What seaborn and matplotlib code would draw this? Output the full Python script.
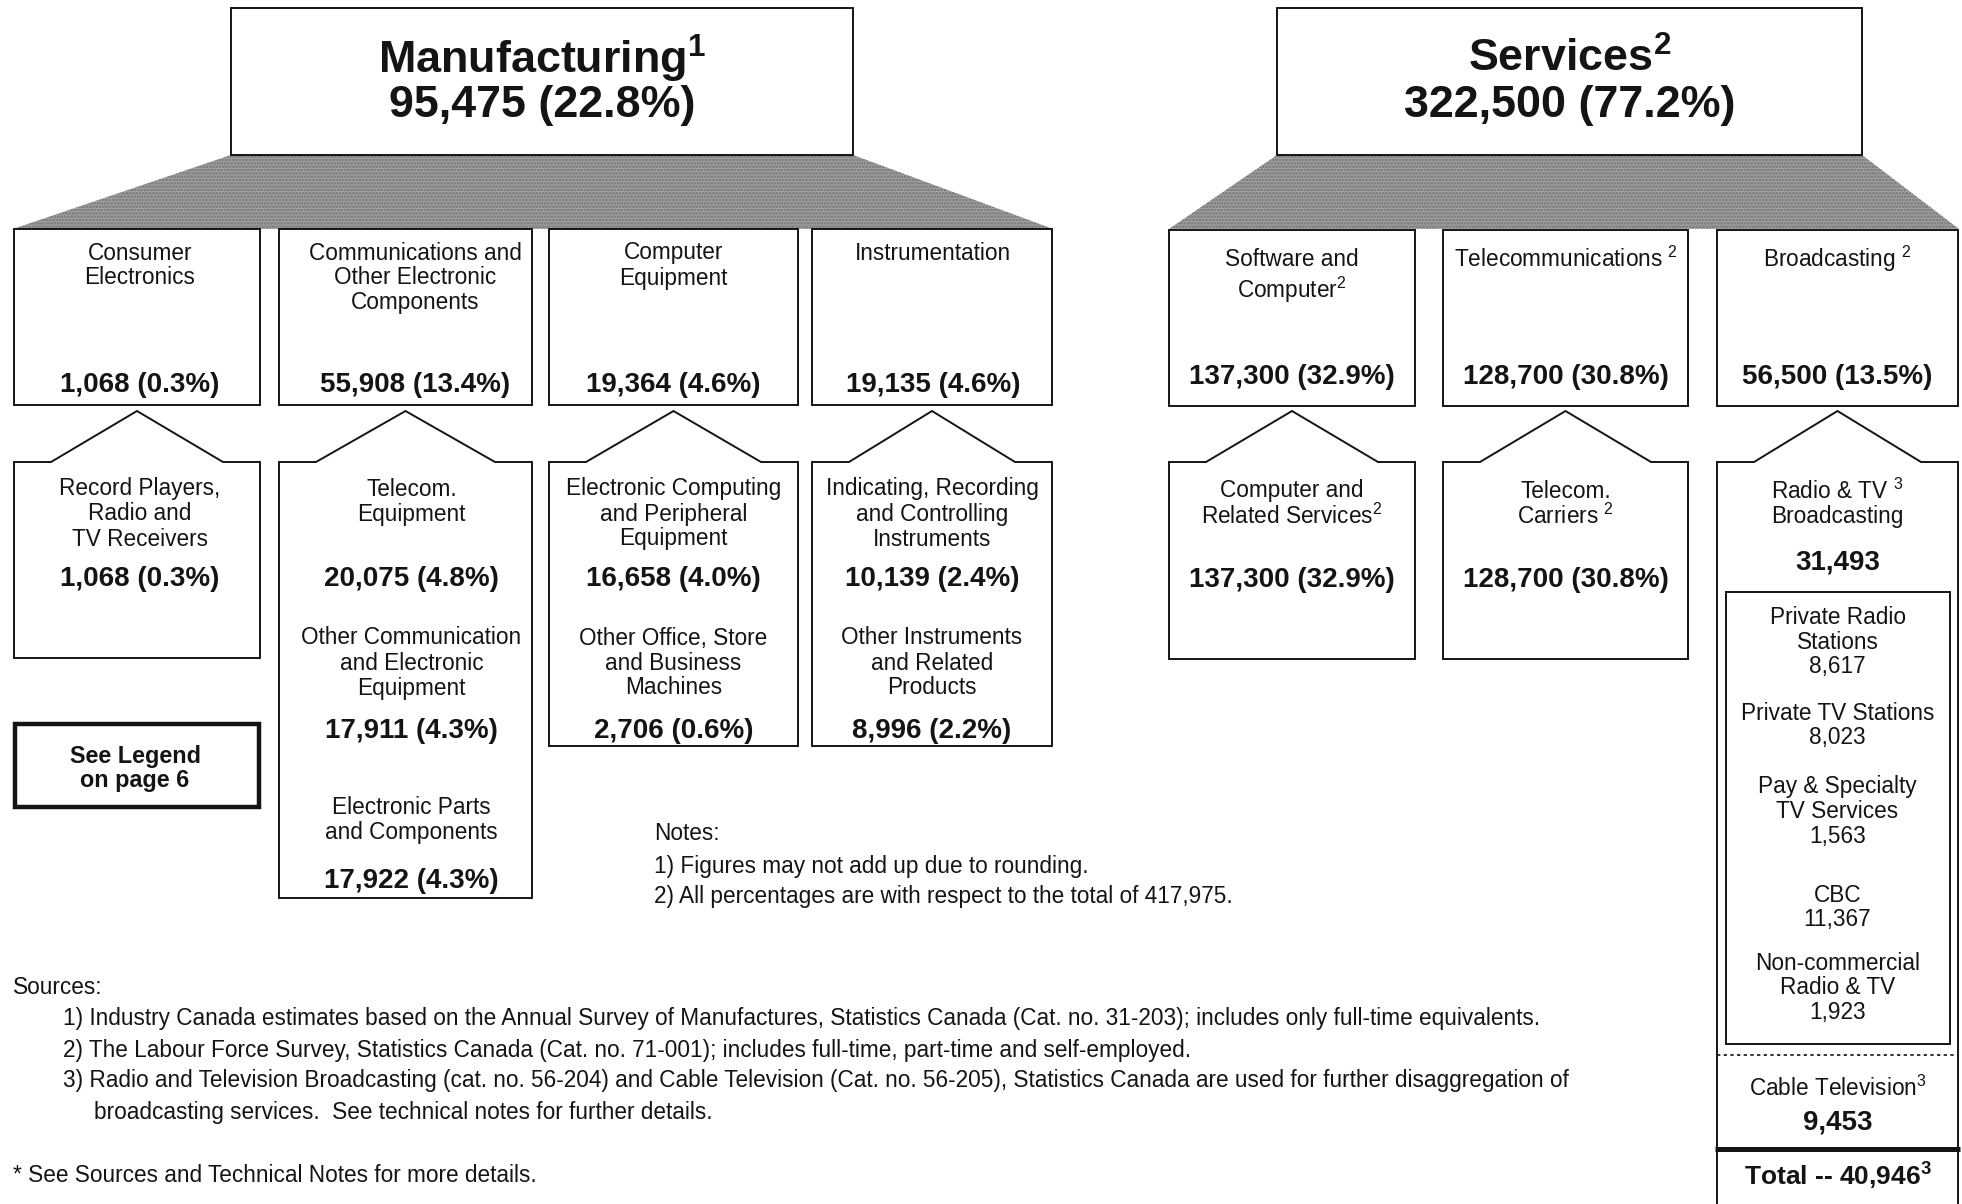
import matplotlib
matplotlib.use("Agg")
import matplotlib.pyplot as plt
from matplotlib.patches import Polygon, Rectangle
import seaborn as sns

# ---------------- data ----------------
top_names = [r"Manufacturing$^{\mathbf{1}}$", r"Services$^{\mathbf{2}}$"]
top_values = [95475, 322500]
top_pcts = [22.8, 77.2]

mfg_cats = ["Consumer\nElectronics",
            "Communications and\nOther Electronic\nComponents",
            "Computer\nEquipment",
            "Instrumentation"]
mfg_values = [1068, 55908, 19364, 19135]
mfg_pcts = [0.3, 13.4, 4.6, 4.6]

mfg_sub_cats = [["Record Players,\nRadio and\nTV Receivers"],
                ["Telecom.\nEquipment", "Other Communication\nand Electronic\nEquipment",
                 "Electronic Parts\nand Components"],
                ["Electronic Computing\nand Peripheral\nEquipment",
                 "Other Office, Store\nand Business\nMachines"],
                ["Indicating, Recording\nand Controlling\nInstruments",
                 "Other Instruments\nand Related\nProducts"]]
mfg_sub_values = [[1068], [20075, 17911, 17922], [16658, 2706], [10139, 8996]]
mfg_sub_pcts = [[0.3], [4.8, 4.3, 4.3], [4.0, 0.6], [2.4, 2.2]]

svc_cats = ["Software and\nComputer$^{2}$", "Telecommunications $^{2}$", "Broadcasting $^{2}$"]
svc_values = [137300, 128700, 56500]
svc_pcts = [32.9, 30.8, 13.5]

svc_sub_cats = ["Computer and\nRelated Services$^{2}$", "Telecom.\nCarriers $^{2}$"]
svc_sub_values = [137300, 128700]
svc_sub_pcts = [32.9, 30.8]

radio_tv_label = "Radio & TV $^{3}$\nBroadcasting"
radio_tv_total = 31493
radio_tv_cats = ["Private Radio\nStations", "Private TV Stations",
                 "Pay & Specialty\nTV Services", "CBC", "Non-commercial\nRadio & TV"]
radio_tv_values = [8617, 8023, 1563, 11367, 1923]
cable_label = "Cable Television$^{3}$"
cable_value = 9453
broadcast_total = 40946

legend_note = "See Legend\non page 6"
notes = ["Notes:",
         "1) Figures may not add up due to rounding.",
         "2) All percentages are with respect to the total of 417,975."]
sources_title = "Sources:"
sources = ["1) Industry Canada estimates based on the Annual Survey of Manufactures, Statistics Canada (Cat. no. 31-203); includes only full-time equivalents.",
           "2) The Labour Force Survey, Statistics Canada (Cat. no. 71-001); includes full-time, part-time and self-employed.",
           "3) Radio and Television Broadcasting (cat. no. 56-204) and Cable Television (Cat. no. 56-205), Statistics Canada are used for further disaggregation of",
           "broadcasting services.  See technical notes for further details."]
footnote = "* See Sources and Technical Notes for more details."

# ---------------- style ----------------
sns.set_theme(style="white")
plt.rcParams["font.family"] = ["Liberation Sans", "DejaVu Sans"]
plt.rcParams["mathtext.fontset"] = "custom"
plt.rcParams["mathtext.rm"] = "Liberation Sans"
plt.rcParams["mathtext.it"] = "Liberation Sans:italic"
plt.rcParams["mathtext.bf"] = "Liberation Sans:bold"
plt.rcParams["mathtext.default"] = "rm"
plt.rcParams["hatch.linewidth"] = 1.4

W, H = 1962, 1204
fig = plt.figure(figsize=(W / 100, H / 100), dpi=100)
ax = fig.add_axes([0, 0, 1, 1])
ax.set_xlim(0, W)
ax.set_ylim(H, 0)
ax.axis("off")

INK = "#141414"
LW = 1.4
BODY = 16.3
VAL = 20
HEAD = 32.3


def fmt(v, p=None):
    s = f"{v:,}"
    if p is not None:
        s += f" ({p:.1f}%)"
    return s


def lines(xc, y0, text, step=25, size=BODY, weight="normal"):
    for i, ln in enumerate(text.split("\n")):
        ax.text(xc, y0 + i * step, ln, ha="center", va="center", fontsize=size,
                fontweight=weight, color=INK)


def value(xc, y, text, size=VAL):
    ax.text(xc, y, text, ha="center", va="center", fontsize=size, fontweight="bold", color=INK)


def house(x0, x1, bottom, apex=411, sh=462, inset=37):
    xc = (x0 + x1) / 2
    pts = [(x0, bottom), (x0, sh), (x0 + inset, sh), (xc, apex),
           (x1 - inset, sh), (x1, sh), (x1, bottom)]
    ax.add_patch(Polygon(pts, closed=True, fill=False, ec=INK, lw=LW))


# ---------------- top boxes & shaded connectors ----------------
top_boxes = [(231, 853), (1277, 1862)]
trap_bottoms = [(13, 1053), (1169, 1959)]
for (x0, x1), (b0, b1), name, v, p in zip(top_boxes, trap_bottoms, top_names, top_values, top_pcts):
    ax.add_patch(Polygon([(x0, 155), (x1, 155), (b1, 229), (b0, 229)], closed=True,
                         fc="#a6a6a6", ec="#6e6e6e", lw=0, hatch="....."))
    ax.add_patch(Rectangle((x0, 8), x1 - x0, 147, fc="white", ec=INK, lw=LW))
    xc = (x0 + x1) / 2
    ax.text(xc, 59, name, ha="center", va="center", fontsize=HEAD, fontweight="bold", color=INK)
    value(xc, 105, fmt(v, p), size=HEAD)

# ---------------- manufacturing level 2 ----------------
mfg_x = [(14, 260), (279, 532), (549, 798), (812, 1052)]
text_dx = [3, 10, 0, 1]
for (x0, x1), dx, c, v, p in zip(mfg_x, text_dx, mfg_cats, mfg_values, mfg_pcts):
    ax.add_patch(Rectangle((x0, 229), x1 - x0, 176, fc="white", ec=INK, lw=LW))
    xc = (x0 + x1) / 2 + dx
    lines(xc, 253, c)
    value(xc, 385, fmt(v, p))

# ---------------- manufacturing level 3 ----------------
mfg_bottoms = [658, 898, 746, 746]
sub_dx = [3, 6, 0, 0]
group_y = [(489, 579), (638, 731), (808, 881)]
for (x0, x1), dx, bot, cats, vals, pcts in zip(mfg_x, sub_dx, mfg_bottoms, mfg_sub_cats,
                                               mfg_sub_values, mfg_sub_pcts):
    house(x0, x1, bot)
    xc = (x0 + x1) / 2 + dx
    for (ly, vy), c, v, p in zip(group_y, cats, vals, pcts):
        lines(xc, ly, c)
        value(xc, vy, fmt(v, p))

# legend pointer box
ax.add_patch(Rectangle((15, 724), 244, 83, fill=False, ec=INK, lw=3.2))
lines(135, 756, legend_note, step=25, size=16.8, weight="bold")

# ---------------- services level 2 ----------------
svc_x = [(1169, 1415), (1443, 1688), (1717, 1958)]
for (x0, x1), c, v, p in zip(svc_x, svc_cats, svc_values, svc_pcts):
    ax.add_patch(Rectangle((x0, 230), x1 - x0, 176, fc="white", ec=INK, lw=LW))
    xc = (x0 + x1) / 2
    lines(xc, 259, c, step=31)
    value(xc, 377, fmt(v, p))

# ---------------- services level 3 ----------------
for (x0, x1), c, v, p in zip(svc_x[:2], svc_sub_cats, svc_sub_values, svc_sub_pcts):
    house(x0, x1, 659)
    xc = (x0 + x1) / 2
    lines(xc, 491, c)
    value(xc, 580, fmt(v, p))

# broadcasting column
bx0, bx1 = svc_x[2]
bxc = (bx0 + bx1) / 2
house(bx0, bx1, 1230)
lines(bxc, 491, radio_tv_label)
value(bxc, 563, fmt(radio_tv_total))
ax.add_patch(Rectangle((1726, 592), 224, 452, fill=False, ec=INK, lw=LW))
group_starts = [618, 713, 787, 895, 963]
for y0, c, v in zip(group_starts, radio_tv_cats, radio_tv_values):
    lines(bxc, y0, c + "\n" + fmt(v), step=24.5)
ax.plot([bx0, bx1], [1055, 1055], color=INK, lw=1.2, ls=(0, (2, 2)))
lines(bxc, 1088, cable_label)
value(bxc, 1123, fmt(cable_value))
ax.plot([bx0 - 2, bx1 + 2], [1149, 1149], color=INK, lw=3.6, solid_capstyle="butt")
value(bxc, 1176, f"Total -- {broadcast_total:,}" + r"$^{\mathbf{3}}$", size=VAL - 1)

# ---------------- notes & sources ----------------
for y, t in zip([833, 866, 897], notes):
    ax.text(654, y, t, ha="left", va="center", fontsize=BODY, color=INK)

ax.text(13, 987, sources_title, ha="left", va="center", fontsize=BODY, color=INK)
for y, x, t in zip([1019, 1050, 1081, 1113], [63, 63, 63, 94], sources):
    ax.text(x, y, t, ha="left", va="center", fontsize=BODY, color=INK)
ax.text(13, 1176, footnote, ha="left", va="center", fontsize=BODY, color=INK)

fig.savefig("out.png", dpi=100, facecolor="white")
